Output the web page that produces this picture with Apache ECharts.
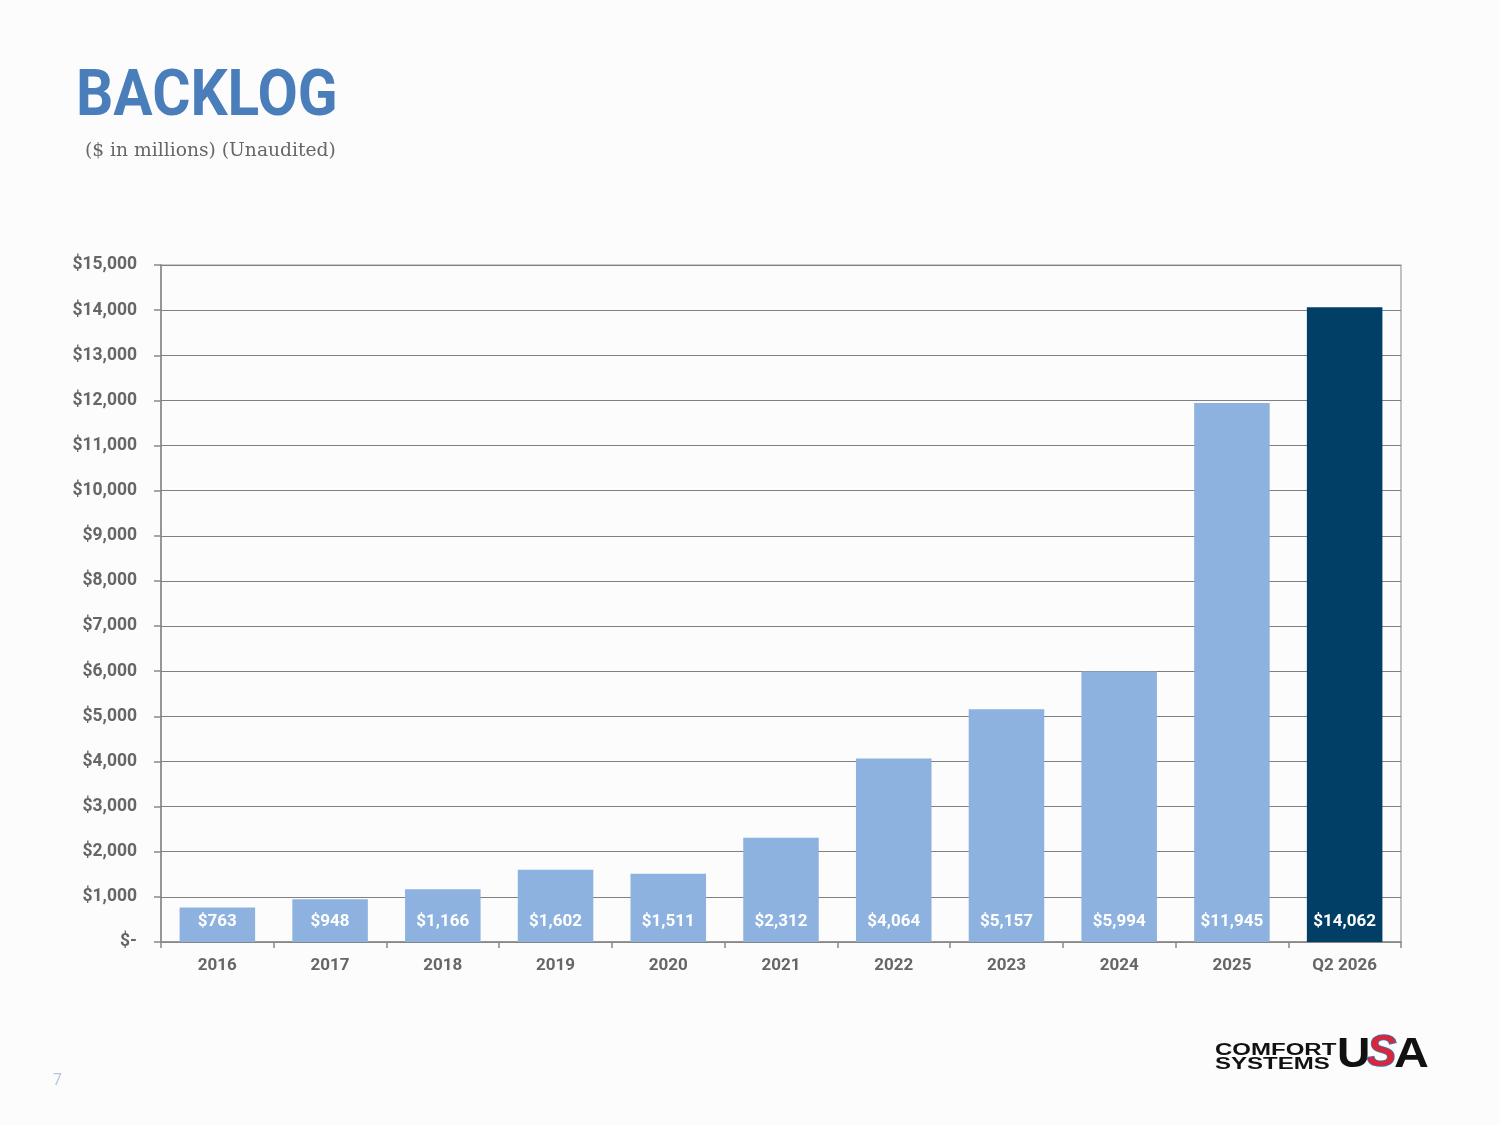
<!DOCTYPE html>
<html>
<head>
<meta charset="utf-8">
<script src="https://cdn.jsdelivr.net/npm/echarts@6/dist/echarts.min.js"></script>
<style>
html,body{margin:0;padding:0;background:#fcfcfd;}
#c{width:1500px;height:1125px;}
</style>
</head>
<body>
<div id="c"></div>
<script>
const categories = ['2016','2017','2018','2019','2020','2021','2022','2023','2024','2025','Q2 2026'];
const backlog = [763, 948, 1166, 1602, 1511, 2312, 4064, 5157, 5994, 11945, 14062];
const highlightIndex = 10;

const LIGHT = '#8db2e0';
const DARK = '#023f66';
const condensed = '"Roboto", sans-serif';

function fmt(v){
  if (v === 0) return '$-';
  return '$' + v.toLocaleString('en-US');
}

const chart = echarts.init(document.getElementById('c'));
chart.setOption({
  backgroundColor: '#fcfcfd',
  animation: false,
  title: [
    { text: '($ in millions) (Unaudited)', left: 80, top: 137,
      textStyle: { fontFamily: '"DejaVu Serif", serif', fontWeight: 'normal', fontSize: 18.7, color: '#666' } },
    { text: '7', left: 48, top: 1068,
      textStyle: { fontFamily: 'Roboto', fontWeight: 'normal', fontSize: 16, color: '#b8c8dc' } }
  ],
  grid: { left: 161, right: 99, top: 265, bottom: 183, show: true, borderColor: '#999', borderWidth: 1.2, backgroundColor: 'transparent' },
  xAxis: {
    type: 'category',
    data: categories,
    axisLine: { lineStyle: { color: '#888', width: 1.5 } },
    axisTick: { show: true, length: 6, lineStyle: { color: '#888', width: 1.5 } },
    axisLabel: { margin: 15, fontFamily: condensed, fontWeight: 'bold', fontSize: 17, color: '#666' }
  },
  yAxis: {
    type: 'value', min: 0, max: 15000, interval: 1000,
    axisLine: { show: true, lineStyle: { color: '#888', width: 1.5 } },
    axisTick: { show: true, length: 7, lineStyle: { color: '#888', width: 1.5 } },
    axisLabel: { margin: 24, fontFamily: condensed, fontWeight: 'bold', fontSize: 17.5, color: '#666', formatter: fmt },
    splitLine: { lineStyle: { color: '#808080', width: 1.2 } }
  },
  series: [{
    type: 'bar',
    data: backlog.map((v, i) => ({ value: v, itemStyle: { color: i === highlightIndex ? DARK : LIGHT } })),
    barCategoryGap: '33%',
    label: {
      show: true, position: 'insideBottom', distance: 12,
      formatter: p => fmt(p.value),
      fontFamily: condensed, fontWeight: 'bold', fontSize: 17, color: '#fff'
    }
  }],
  graphic: [
    { type: 'text', x: 76, y: 66, scaleX: 0.9,
      style: { text: 'BACKLOG', font: 'bold 65px Roboto, sans-serif', fill: '#4a7ebb' } },
    { type: 'text', x: 1215, y: 1044, scaleX: 1.5,
      style: { text: 'COMFORT\nSYSTEMS', font: '900 16px "Liberation Sans", Arial, sans-serif', lineHeight: 14, fill: '#111' } },
    { type: 'text', x: 1337, y: 1034, scaleX: 1.1,
      style: { text: 'U', font: '900 42px "Liberation Sans", Arial, sans-serif', fill: '#111' } },
    { type: 'text', x: 1367, y: 1032, scaleX: 1.0,
      style: { text: 'S', font: 'italic 900 44px "Liberation Sans", Arial, sans-serif', fill: '#d9263a', stroke: '#2f7fc4', lineWidth: 1.5 } },
    { type: 'text', x: 1394, y: 1034, scaleX: 1.15,
      style: { text: 'A', font: '900 42px "Liberation Sans", Arial, sans-serif', fill: '#111' } }
  ]
});
</script>
</body>
</html>
